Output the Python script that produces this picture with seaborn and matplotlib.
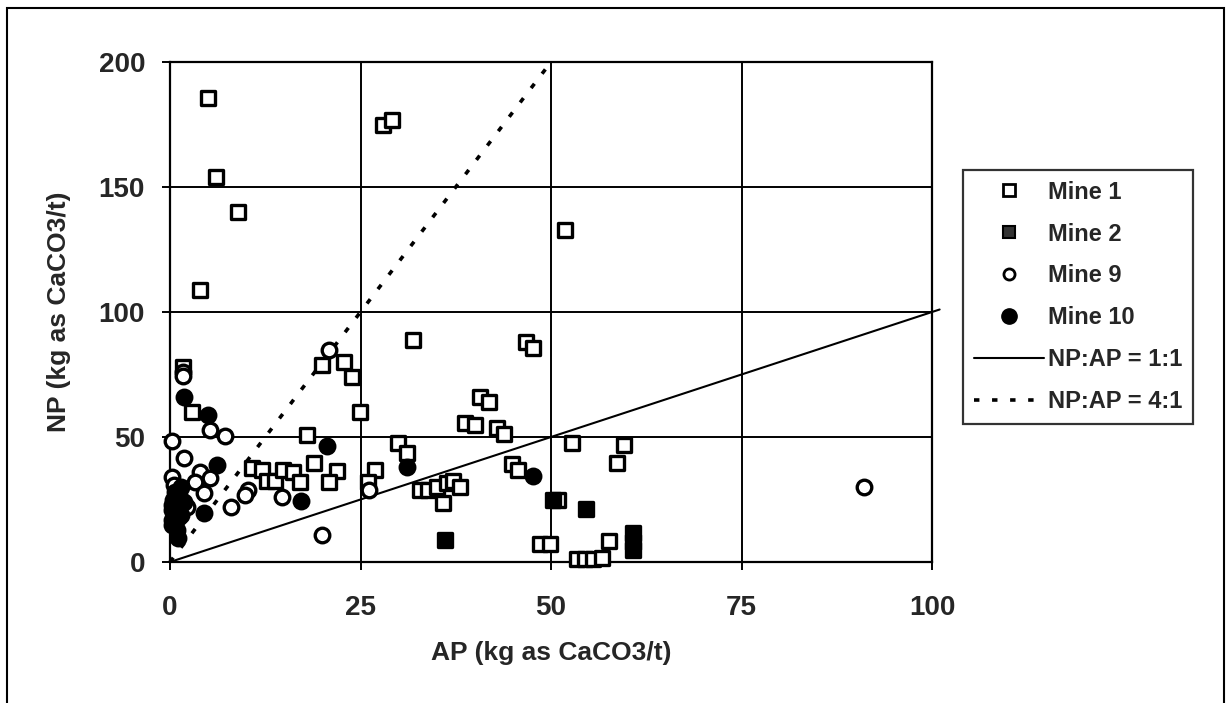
import numpy as np
import pandas as pd
import matplotlib
matplotlib.use('Agg')
import matplotlib.pyplot as plt
from matplotlib.patches import Rectangle
from matplotlib.lines import Line2D
import seaborn as sns

# --- data (AP, NP in kg as CaCO3/t) ---
mine1_ap = [5.0, 6.0, 8.9, 3.9, 28.0, 29.1, 51.8, 1.7, 2.9, 20.0, 22.8, 23.9, 24.9,
            18.0, 18.9, 21.9, 20.9, 10.8, 12.1, 12.7, 13.8, 14.8, 16.2, 17.1, 31.9,
            29.9, 31.1, 26.9, 26.0, 32.8, 33.8, 35.0, 36.3, 37.2, 38.0, 35.8, 46.7,
            47.7, 40.7, 41.8, 38.7, 40.0, 42.9, 43.8, 44.9, 45.7, 52.8, 59.6, 58.7,
            50.9, 48.5, 49.9, 53.4, 54.5, 55.5, 56.7, 57.6]
mine1_np = [185.6, 154, 140, 109, 175, 177, 133, 78, 60, 79, 80, 74, 60,
            51, 39.6, 36.5, 32, 37.6, 36.8, 32.5, 32.5, 36.8, 36, 32, 89,
            47.6, 43.6, 36.8, 32, 29, 29, 30, 31.5, 32.5, 30, 23.6, 88,
            85.6, 66, 64, 55.6, 55, 53.6, 51.2, 39.2, 36.8, 47.6, 46.8, 39.6,
            24.8, 7.2, 7.2, 1.2, 1.2, 1.2, 1.5, 8.4]

mine2_ap = [36.1, 50.3, 54.6, 60.8, 60.8, 60.8]
mine2_np = [8.8, 24.8, 21.2, 11.5, 8.0, 5.0]

mine9_ap = [1.7, 1.7, 5.2, 7.2, 0.2, 20.9, 1.8, 0.2, 3.9, 5.2, 3.3, 4.4, 10.3,
            9.8, 8.0, 14.7, 20.0, 26.1, 91.1, 0.5, 2.2, 1.2]
mine9_np = [76, 74.5, 53, 50.5, 48.5, 85, 41.6, 34, 36, 33.6, 32, 27.6, 29,
            27, 22, 26, 10.8, 29, 30, 31, 22, 18]

mine10_ap = [1.8, 5.0, 20.6, 6.2, 17.2, 4.4, 1.1, 31.1, 47.6, 0.3, 0.5, 0.8, 1.0,
             0.4, 1.2, 0.6, 1.5, 0.3, 1.8, 0.9, 0.2, 1.4, 0.7, 1.1, 0.2]
mine10_np = [66, 59, 46.4, 39, 24.4, 19.6, 9.6, 38, 34.4, 15, 18, 20, 22,
             25, 27, 28, 30, 17, 24, 13, 21, 19, 16, 25, 23]

ratio_labels = ['NP:AP = 1:1', 'NP:AP = 4:1']
ratio_values = [1, 4]
ratio_ap_end = [101, 50]

x_ticks = [0, 25, 50, 75, 100]
y_ticks = [0, 50, 100, 150, 200]

sns.set_style('white')
plt.rcParams['font.family'] = ['Liberation Sans', 'DejaVu Sans']

fig = plt.figure(figsize=(12.3, 7.03), dpi=100)
ax = fig.add_axes([170 / 1230, 1 - 562 / 703, 762 / 1230, 500 / 703])

# chart-area frame
fig.patches.append(Rectangle((7 / 1230, -0.02), 1217 / 1230, 1.02 - 8 / 703,
                             transform=fig.transFigure, fill=False,
                             edgecolor='black', linewidth=1.5))

df1 = pd.DataFrame({'AP': mine1_ap, 'NP': mine1_np})
df2 = pd.DataFrame({'AP': mine2_ap, 'NP': mine2_np})
df9 = pd.DataFrame({'AP': mine9_ap, 'NP': mine9_np})
df10 = pd.DataFrame({'AP': mine10_ap, 'NP': mine10_np})

kw = dict(ax=ax, s=110, linewidth=2.4, clip_on=False, zorder=5, legend=False)
sns.scatterplot(data=df1, x='AP', y='NP', marker='s', facecolor='white', edgecolor='black', **kw)
sns.scatterplot(data=df2, x='AP', y='NP', marker='s', facecolor='black', edgecolor='black', **kw)
sns.scatterplot(data=df9, x='AP', y='NP', marker='o', facecolor='white', edgecolor='black', **kw)
sns.scatterplot(data=df10, x='AP', y='NP', marker='o', facecolor='black', edgecolor='black', **kw)

styles = ['-', (0, (1.5, 3.5))]
widths = [1.5, 2.6]
for lab, r, xe, ls, lw in zip(ratio_labels, ratio_values, ratio_ap_end, styles, widths):
    xs = np.array([0, xe])
    ax.plot(xs, r * xs, color='black', linestyle=ls, linewidth=lw, clip_on=False, zorder=4)

ax.set_xlim(0, 100)
ax.set_ylim(0, 200)
ax.set_xticks(x_ticks)
ax.set_yticks(y_ticks)
ax.grid(True, color='black', linewidth=1.4)
for sp in ax.spines.values():
    sp.set_color('black')
    sp.set_linewidth(1.6)
ax.tick_params(axis='both', direction='out', length=6, width=1.4, color='black',
               labelsize=20, bottom=True, left=True)
ax.tick_params(axis='x', pad=18)
ax.tick_params(axis='y', pad=12)
for t in ax.get_xticklabels() + ax.get_yticklabels():
    t.set_fontweight('bold')
ax.set_xlabel('AP (kg as CaCO3/t)', fontsize=19, fontweight='bold', labelpad=14)
ax.set_ylabel('NP (kg as CaCO3/t)', fontsize=19, fontweight='bold', labelpad=20)

handles = [
    Line2D([], [], marker='s', linestyle='none', markersize=8, markerfacecolor='white',
           markeredgecolor='black', markeredgewidth=2),
    Line2D([], [], marker='s', linestyle='none', markersize=8, markerfacecolor='#333333',
           markeredgecolor='black', markeredgewidth=1.5),
    Line2D([], [], marker='o', linestyle='none', markersize=8, markerfacecolor='white',
           markeredgecolor='black', markeredgewidth=2),
    Line2D([], [], marker='o', linestyle='none', markersize=11, markerfacecolor='black',
           markeredgecolor='black'),
    Line2D([], [], color='black', linestyle='-', linewidth=1.5),
    Line2D([], [], color='black', linestyle=(0, (1.5, 3.5)), linewidth=2.6),
]
labels = ['Mine 1', 'Mine 2', 'Mine 9', 'Mine 10'] + ratio_labels
leg = ax.legend(handles, labels, loc='upper left',
                bbox_to_anchor=(963 / 1230, 1 - 170 / 703), bbox_transform=fig.transFigure,
                borderaxespad=0, frameon=True, fancybox=False, edgecolor='black',
                prop={'size': 17, 'weight': 'bold'}, handlelength=3.0,
                handletextpad=0.15, labelspacing=0.8, borderpad=0.45)
leg.get_frame().set_linewidth(1.6)

fig.savefig('out.png', dpi=100)
